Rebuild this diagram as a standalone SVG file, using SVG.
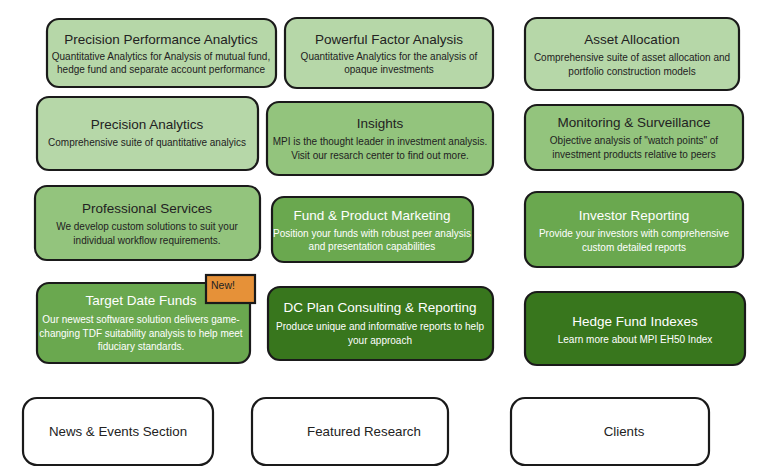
<svg xmlns="http://www.w3.org/2000/svg" width="760" height="473" viewBox="0 0 760 473">
<style>
.box{stroke:#1a1a1a;stroke-width:2.2;}
.l1{fill:#b6d7a8;}
.l2{fill:#93c47d;}
.l3{fill:#6aa84f;}
.l4{fill:#38761d;}
.w{fill:#ffffff;}
text{font-family:"Liberation Sans",Arial,sans-serif;text-anchor:middle;}
.t{font-size:13.5px;fill:#222;}
.s{font-size:10px;fill:#222;}
.lt .t,.lt .s{fill:#ffffff;}
.b{font-size:13.3px;fill:#222;}
</style>
<rect width="760" height="473" fill="#ffffff"/>
<g id="precision-performance">
<rect class="box l1" x="47" y="19" width="229" height="68" rx="12"/>
<text class="t" x="161" y="44">Precision Performance Analytics</text>
<text class="s" x="161" y="60">Quantitative Analytics for Analysis of mutual fund,</text>
<text class="s" x="161" y="73">hedge fund and separate account performance</text>
</g>
<g id="powerful-factor">
<rect class="box l1" x="285" y="18" width="208" height="70" rx="12"/>
<text class="t" x="389" y="44">Powerful Factor Analysis</text>
<text class="s" x="389" y="60">Quantitative Analytics for the analysis of</text>
<text class="s" x="389" y="73">opaque investments</text>
</g>
<g id="asset-allocation">
<rect class="box l1" x="525" y="18" width="214" height="72" rx="12"/>
<text class="t" x="632" y="44">Asset Allocation</text>
<text class="s" x="632" y="61">Comprehensive suite of asset allocation and</text>
<text class="s" x="632" y="75">portfolio construction models</text>
</g>
<g id="precision-analytics">
<rect class="box l1" x="37" y="97" width="221" height="73" rx="12"/>
<text class="t" x="147" y="129">Precision Analytics</text>
<text class="s" x="147" y="146">Comprehensive suite of quantitative analyics</text>
</g>
<g id="insights">
<rect class="box l2" x="267" y="102" width="226" height="73" rx="12"/>
<text class="t" x="380" y="128">Insights</text>
<text class="s" x="380" y="145">MPI is the thought leader in investment analysis.</text>
<text class="s" x="380" y="159">Visit our resarch center to find out more.</text>
</g>
<g id="monitoring">
<rect class="box l2" x="525" y="105" width="218" height="65" rx="12"/>
<text class="t" x="634" y="127">Monitoring &amp; Surveillance</text>
<text class="s" x="634" y="144">Objective analysis of "watch points" of</text>
<text class="s" x="634" y="158">investment products relative to peers</text>
</g>
<g id="professional-services">
<rect class="box l2" x="35" y="186" width="225" height="74" rx="12"/>
<text class="t" x="147" y="213">Professional Services</text>
<text class="s" x="147" y="230">We develop custom solutions to suit your</text>
<text class="s" x="147" y="244">individual workflow requirements.</text>
</g>
<g id="fund-product-marketing" class="lt">
<rect class="box l3" x="272" y="197" width="201" height="65" rx="12"/>
<text class="t" x="372" y="220">Fund &amp; Product Marketing</text>
<text class="s" x="372" y="237">Position your funds with robust peer analysis</text>
<text class="s" x="372" y="250">and presentation capabilities</text>
</g>
<g id="investor-reporting" class="lt">
<rect class="box l3" x="525" y="192" width="218" height="75" rx="12"/>
<text class="t" x="634" y="220">Investor Reporting</text>
<text class="s" x="634" y="237">Provide your investors with comprehensive</text>
<text class="s" x="634" y="251">custom detailed reports</text>
</g>
<g id="target-date-funds" class="lt">
<rect class="box l3" x="37" y="283" width="213" height="80" rx="12"/>
<text class="t" x="141" y="305">Target Date Funds</text>
<text class="s" x="141" y="323">Our newest software solution delivers game-</text>
<text class="s" x="141" y="337">changing TDF suitability analysis to help meet</text>
<text class="s" x="141" y="350">fiduciary standards.</text>
</g>
<g id="new-badge">
<rect x="206" y="275" width="49" height="28" fill="#e69138" stroke="#1a1a1a" stroke-width="2.2"/>
<text x="223" y="289" style="font-size:10.5px;fill:#222;">New!</text>
</g>
<g id="dc-plan" class="lt">
<rect class="box l4" x="268" y="287" width="225" height="73" rx="12"/>
<text class="t" x="380" y="312">DC Plan Consulting &amp; Reporting</text>
<text class="s" x="380" y="330">Produce unique and informative reports to help</text>
<text class="s" x="380" y="344">your approach</text>
</g>
<g id="hedge-fund-indexes" class="lt">
<rect class="box l4" x="525" y="292" width="220" height="73" rx="12"/>
<text class="t" x="635" y="326">Hedge Fund Indexes</text>
<text class="s" x="635" y="343">Learn more about MPI EH50 Index</text>
</g>
<g id="news-events">
<rect class="box w" x="23" y="398" width="190" height="67" rx="14"/>
<text class="b" x="118" y="436">News &amp; Events Section</text>
</g>
<g id="featured-research">
<rect class="box w" x="252" y="398" width="196" height="67" rx="14"/>
<text class="b" x="364" y="436">Featured Research</text>
</g>
<g id="clients">
<rect class="box w" x="511" y="398" width="198" height="67" rx="14"/>
<text class="b" x="624" y="436">Clients</text>
</g>
<g id="connectors"></g>
</svg>
